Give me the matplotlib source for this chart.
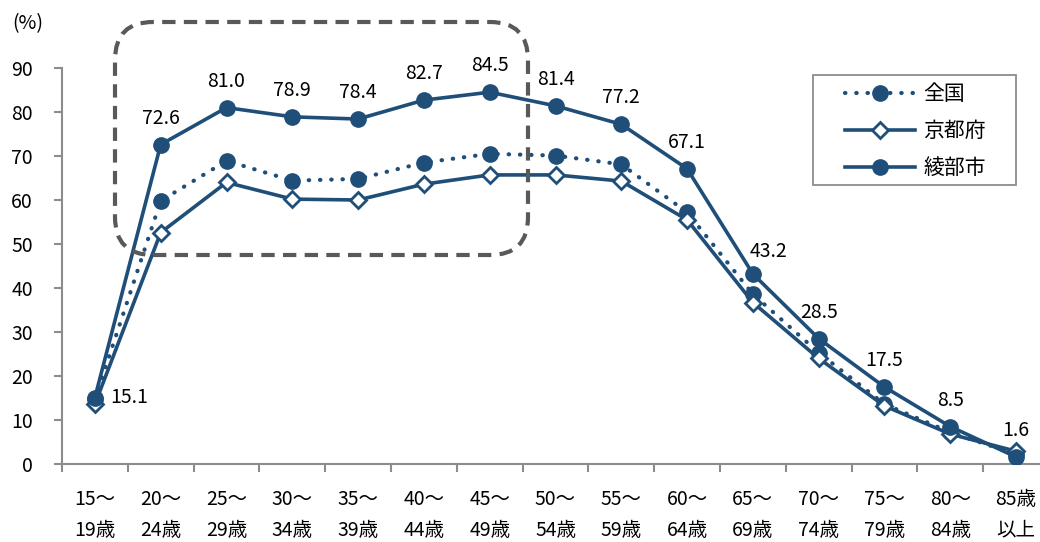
import matplotlib
matplotlib.use("Agg")
import matplotlib.pyplot as plt
from matplotlib.patches import FancyBboxPatch, Rectangle
from matplotlib.transforms import IdentityTransform

plt.rcParams['font.family'] = ['Noto Sans CJK JP', 'DejaVu Sans']

ages = ["15～\n19歳", "20～\n24歳", "25～\n29歳", "30～\n34歳", "35～\n39歳",
        "40～\n44歳", "45～\n49歳", "50～\n54歳", "55～\n59歳", "60～\n64歳",
        "65～\n69歳", "70～\n74歳", "75～\n79歳", "80～\n84歳", "85歳\n以上"]
zenkoku = [14.7, 59.8, 68.9, 64.4, 64.8, 68.5, 70.5, 70.1, 68.1, 57.2,
           38.6, 25.3, 13.6, 7.2, 2.2]
kyotofu = [13.6, 52.6, 64.0, 60.2, 60.0, 63.6, 65.7, 65.7, 64.3, 55.5,
           36.7, 24.0, 13.2, 6.8, 2.9]
ayabe = [15.1, 72.6, 81.0, 78.9, 78.4, 82.7, 84.5, 81.4, 77.2, 67.1,
         43.2, 28.5, 17.5, 8.5, 1.6]

navy = "#1F4E79"
axis_gray = "#8C8C8C"
fs = 14

fig = plt.figure(figsize=(10.4, 5.42), dpi=100)
ax = fig.add_axes([62 / 1040, 78 / 542, 987 / 1040, 396 / 542])

x = list(range(len(ages)))
ax.plot(x, zenkoku, color=navy, lw=3, linestyle=(0, (0.1, 2.6)),
        dash_capstyle='round', marker='o', markersize=11, label="全国", zorder=3)
ax.plot(x, kyotofu, color=navy, lw=2.6, marker='D', markersize=8,
        markerfacecolor='white', markeredgecolor=navy, markeredgewidth=2,
        label="京都府", zorder=4)
ax.plot(x, ayabe, color=navy, lw=2.6, marker='o', markersize=11,
        label="綾部市", zorder=5)

# data labels for 綾部市
for i, v in enumerate(ayabe):
    if i == 0:
        ax.annotate(f"{v:.1f}", (i, v), xytext=(11, 0), textcoords='offset points',
                    ha='left', va='center', fontsize=fs)
    elif i == 10:
        ax.annotate(f"{v:.1f}", (i, v), xytext=(11, 12), textcoords='offset points',
                    ha='center', va='baseline', fontsize=fs)
    else:
        ax.annotate(f"{v:.1f}", (i, v), xytext=(0, 15), textcoords='offset points',
                    ha='center', va='baseline', fontsize=fs)

ax.set_xlim(-0.5, 14.5)
ax.set_ylim(0, 90)
ax.set_yticks(range(0, 91, 10))
ax.set_xticks(x)
ax.set_xticklabels(ages, fontsize=fs)
for t in ax.get_xticklabels():
    t.set_linespacing(1.6)
ax.set_xticks([i - 0.5 for i in range(len(ages) + 1)], minor=True)
ax.tick_params(axis='x', which='major', length=0, pad=18)
ax.tick_params(axis='x', which='minor', length=6, width=1.5, color=axis_gray)
ax.tick_params(axis='y', length=6, width=1.5, color=axis_gray, pad=15, labelsize=fs)

for s in ['top', 'right']:
    ax.spines[s].set_visible(False)
for s in ['left', 'bottom']:
    ax.spines[s].set_color(axis_gray)
    ax.spines[s].set_linewidth(1.5)

fig.text(12 / 1040, 1 - 24 / 542, "(%)", fontsize=fs, va='center', ha='left')

# dashed highlight box (pixel coords)
box = FancyBboxPatch((115, 542 - 255), 413, 233,
                     boxstyle="round,pad=0,rounding_size=38",
                     transform=IdentityTransform(), fill=False,
                     edgecolor="#595959", lw=3, linestyle=(0, (3.2, 2.0)),
                     zorder=6)
fig.patches.append(box)

# legend: entries without frame, frame drawn separately
leg = ax.legend(loc='upper left', bbox_to_anchor=(845 / 1040, 1 - 83 / 542),
                bbox_transform=fig.transFigure, fontsize=15, frameon=False,
                handlelength=3.37, borderpad=0, labelspacing=0.72,
                handletextpad=0.4, borderaxespad=0)
frame = Rectangle((813, 542 - 185), 203, 110, transform=IdentityTransform(),
                  fill=True, facecolor='white', edgecolor=axis_gray, lw=1.3,
                  zorder=1)
fig.patches.append(frame)
ax.set_zorder(2)
ax.patch.set_alpha(0)

fig.savefig("out.png", dpi=100)
